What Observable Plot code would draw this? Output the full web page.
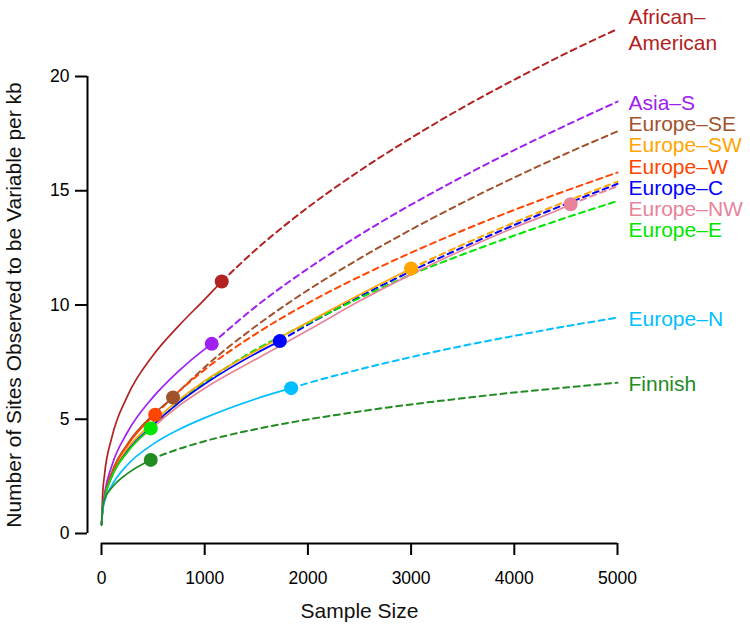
<!DOCTYPE html>
<html>
<head>
<meta charset="utf-8">
<script src="https://cdn.jsdelivr.net/npm/d3@7"></script>
<script src="https://cdn.jsdelivr.net/npm/@observablehq/plot@0.6"></script>
<style>
  body { margin: 0; background: #fff; }
  #chart svg { display: block; }
</style>
</head>
<body>
<div id="chart"></div>
<script>
// ---- data ----
const groups = ["African–American", "Asia–S", "Europe–SE", "Europe–SW", "Europe–W",
                "Europe–C", "Europe–NW", "Europe–E", "Europe–N", "Finnish"];
const labelText = ["African–\nAmerican", "Asia–S", "Europe–SE", "Europe–SW", "Europe–W",
                   "Europe–C", "Europe–NW", "Europe–E", "Europe–N", "Finnish"];
const colors = ["#B22222", "#A020F0", "#A0522D", "#FFA500", "#FF4500",
                "#0000FF", "#E8839A", "#00E600", "#00BFFF", "#228B22"];

// sample sizes at which the curves were read
const sampleSizes = [1, 10, 30, 100, 250, 500, 750, 1000, 1500, 2000, 2500, 3000, 3500, 4000, 4500, 5000];

// observed sample size and value of each group (the dots)
const observedN = [1165, 1068, 693, 3000, 520, 1728, 4546, 477, 1838, 477];
const observedV = [11.03, 8.3, 5.95, 11.6, 5.2, 8.42, 14.41, 4.6, 6.36, 3.22];

// curve values at sampleSizes (solid up to the dot, dashed beyond)
const africanAmerican = [0.40, 1.60, 2.60, 4.20, 6.00, 7.80, 9.10, 10.25, 12.44, 14.27, 15.87, 17.31, 18.64, 19.86, 21.01, 22.08];
const asiaS          = [0.40, 1.09, 1.76, 2.97, 4.42, 5.97, 7.12, 8.07, 9.95, 11.59, 13.06, 14.39, 15.62, 16.78, 17.86, 18.9];
const europeSE       = [0.40, 1.03, 1.63, 2.68, 3.91, 5.20, 6.21, 7.28, 9.09, 10.65, 12.03, 13.30, 14.48, 15.58, 16.62, 17.6];
const europeSW       = [0.40, 1.00, 1.57, 2.55, 3.70, 4.88, 5.85, 6.68, 8.00, 9.25, 10.45, 11.60, 12.64, 13.61, 14.53, 15.4];
const europeW        = [0.40, 1.03, 1.61, 2.64, 3.85, 5.12, 6.22, 7.17, 8.75, 10.08, 11.24, 12.29, 13.26, 14.16, 15.00, 15.8];
const europeC        = [0.40, 1.00, 1.55, 2.50, 3.60, 4.75, 5.73, 6.54, 7.89, 9.14, 10.36, 11.48, 12.52, 13.50, 14.42, 15.3];
const europeNW       = [0.40, 0.98, 1.53, 2.48, 3.55, 4.65, 5.59, 6.36, 7.64, 8.89, 10.17, 11.34, 12.41, 13.39, 14.31, 15.2];
const europeE        = [0.40, 1.00, 1.54, 2.48, 3.56, 4.71, 5.74, 6.61, 8.06, 9.20, 10.30, 11.33, 12.21, 13.04, 13.82, 14.55];
const europeN        = [0.38, 0.95, 1.40, 2.10, 3.00, 3.91, 4.55, 5.06, 5.90, 6.58, 7.18, 7.72, 8.21, 8.65, 9.07, 9.45];
const finnish        = [0.35, 1.10, 1.50, 2.00, 2.62, 3.27, 3.70, 4.04, 4.57, 4.99, 5.34, 5.65, 5.92, 6.17, 6.39, 6.60];

const seriesValues = [africanAmerican, asiaS, europeSE, europeSW, europeW,
                      europeC, europeNW, europeE, europeN, finnish];

const xTicks = [0, 1000, 2000, 3000, 4000, 5000];
const yTicks = [0, 5, 10, 15, 20];
const xTitle = "Sample Size";
const yTitle = "Number of Sites Observed to be Variable per kb";

// ---- build tables ----
const solid = [], dashed = [], dots = [];
groups.forEach((g, i) => {
  const N = observedN[i], V = observedV[i], vals = seriesValues[i];
  sampleSizes.forEach((n, j) => { if (n < N) solid.push({group: g, n, v: vals[j]}); });
  solid.push({group: g, n: N, v: V});
  dashed.push({group: g, n: N, v: V});
  sampleSizes.forEach((n, j) => { if (n > N) dashed.push({group: g, n, v: vals[j]}); });
  dots.push({group: g, n: N, v: V});
});

// labels at the right end, spread apart where they would collide
const xEnd = xTicks[xTicks.length - 1];
const gap = 0.93;
const target = i => seriesValues[i][seriesValues[i].length - 1];
let blocks = groups.map((g, i) => ({items: [i], center: target(i)}));
let changed = true;
while (changed) {
  changed = false;
  for (let k = 0; k < blocks.length - 1; k++) {
    const a = blocks[k], b = blocks[k + 1];
    const aBottom = a.center - (a.items.length - 1) / 2 * gap;
    const bTop = b.center + (b.items.length - 1) / 2 * gap;
    if (aBottom - bTop < gap - 1e-6) {
      const items = a.items.concat(b.items);
      const center = d3.mean(items, target);
      blocks.splice(k, 2, {items, center});
      changed = true;
      break;
    }
  }
}
const labels = [];
blocks.forEach(b => b.items.forEach((i, k) => {
  labels.push({group: groups[i], text: labelText[i], n: xEnd,
               v: b.center + ((b.items.length - 1) / 2 - k) * gap});
}));

const font = "'Liberation Sans', Arial, Helvetica, sans-serif";

const chart = Plot.plot({
  width: 750,
  height: 630,
  marginLeft: 101,
  marginRight: 133,
  marginTop: 76,
  marginBottom: 97,
  style: {fontFamily: font, background: "white", overflow: "visible", color: "black"},
  x: {domain: [xTicks[0], xEnd]},
  y: {domain: [yTicks[0], yTicks[yTicks.length - 1]]},
  color: {domain: groups, range: colors},
  marks: [
    Plot.axisX({ticks: xTicks, tickSize: 12, tickPadding: 16, dy: 10, fontSize: 17.5,
                strokeWidth: 2, tickFormat: d3.format("d"), label: null}),
    Plot.ruleY([yTicks[0]], {x1: xTicks[0], x2: xEnd, dy: 10, strokeWidth: 2}),
    Plot.axisY({ticks: yTicks, tickSize: 12, tickPadding: 6, dx: -14, fontSize: 17.5,
                strokeWidth: 2, tickFormat: d3.format("d"), label: null}),
    Plot.ruleX([xTicks[0]], {y1: yTicks[0], y2: yTicks[yTicks.length - 1], dx: -14, strokeWidth: 2}),
    Plot.text([xTitle], {frameAnchor: "bottom", dy: 78, fontSize: 21,
                         textAnchor: "middle", lineAnchor: "middle", fill: "#111"}),
    Plot.text([yTitle], {frameAnchor: "left", dx: -87, rotate: -90, fontSize: 21,
                         textAnchor: "middle", lineAnchor: "middle", fill: "#111"}),
    Plot.line(dashed, {x: "n", y: "v", z: "group", stroke: "group", strokeWidth: 2,
                       strokeDasharray: "6,4.5", curve: "monotone-x"}),
    Plot.line(solid, {x: "n", y: "v", z: "group", stroke: "group", strokeWidth: 1.7,
                      curve: "monotone-x"}),
    Plot.dot(dots, {x: "n", y: "v", fill: "group", r: 7}),
    Plot.text(labels, {x: "n", y: "v", text: "text", fill: "group", dx: 11, fontSize: 21,
                       textAnchor: "start", lineAnchor: "middle", lineHeight: 1.22})
  ]
});
document.getElementById("chart").appendChild(chart);
</script>
</body>
</html>
